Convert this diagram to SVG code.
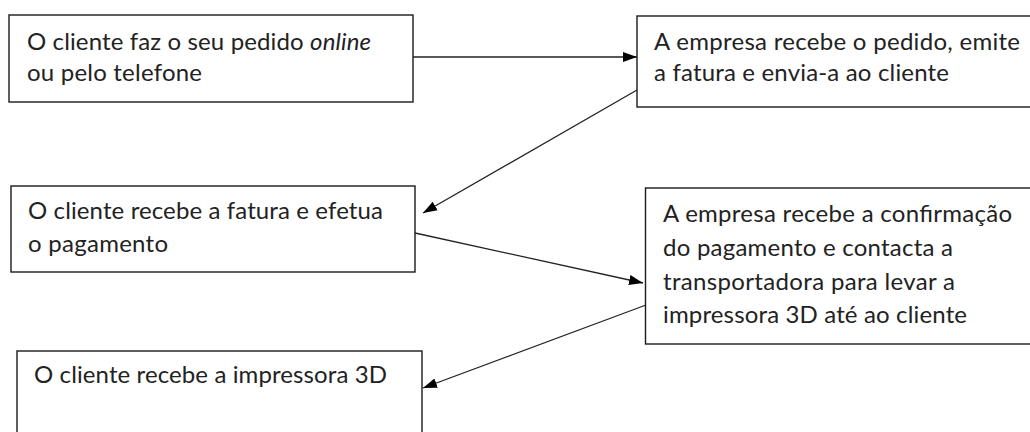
<svg xmlns="http://www.w3.org/2000/svg" width="1030" height="432" viewBox="0 0 1030 432">
  <style>
    .box { fill: #ffffff; stroke: #1a1a1a; stroke-width: 1.4; }
    .lbl { font-family: Lato, "Open Sans", "DejaVu Sans", sans-serif; font-size: 24px; fill: #222222; }
    .conn { stroke: #222222; stroke-width: 1.3; fill: none; marker-end: url(#arrow); }
  </style>
  <defs>
    <marker id="arrow" markerUnits="userSpaceOnUse" markerWidth="15" markerHeight="11" refX="14" refY="5.5" orient="auto">
      <path d="M0,0.5 L14,5.5 L0,10.5 z" fill="#000000"/>
    </marker>
  </defs>
  <rect width="1030" height="432" fill="#ffffff"/>

  <g id="node1">
    <rect class="box" x="9" y="15" width="404" height="87"/>
    <text class="lbl" x="27" y="50" textLength="344" lengthAdjust="spacing">O cliente faz o seu pedido <tspan font-style="italic">online</tspan></text>
    <text class="lbl" x="27" y="81" textLength="175" lengthAdjust="spacing">ou pelo telefone</text>
  </g>

  <g id="node2">
    <rect class="box" x="637" y="16" width="420" height="91"/>
    <text class="lbl" x="654" y="50" textLength="366" lengthAdjust="spacing">A empresa recebe o pedido, emite</text>
    <text class="lbl" x="654" y="81" textLength="295" lengthAdjust="spacing">a fatura e envia-a ao cliente</text>
  </g>

  <g id="node3">
    <rect class="box" x="11" y="186" width="404" height="86"/>
    <text class="lbl" x="28" y="219" textLength="355" lengthAdjust="spacing">O cliente recebe a fatura e efetua</text>
    <text class="lbl" x="28" y="252" textLength="140" lengthAdjust="spacing">o pagamento</text>
  </g>

  <g id="node4">
    <rect class="box" x="645.5" y="188" width="420" height="156"/>
    <text class="lbl" x="663" y="222" textLength="349" lengthAdjust="spacing">A empresa recebe a confirmação</text>
    <text class="lbl" x="663" y="256" textLength="290" lengthAdjust="spacing">do pagamento e contacta a</text>
    <text class="lbl" x="663" y="290" textLength="292" lengthAdjust="spacing">transportadora para levar a</text>
    <text class="lbl" x="663" y="323" textLength="304" lengthAdjust="spacing">impressora 3D até ao cliente</text>
  </g>

  <g id="node5">
    <rect class="box" x="17" y="351" width="405" height="100"/>
    <text class="lbl" x="34" y="383" textLength="353" lengthAdjust="spacing">O cliente recebe a impressora 3D</text>
  </g>

  <g id="connectors">
    <line class="conn" x1="413" y1="57" x2="637" y2="57"/>
    <line class="conn" x1="637" y1="90" x2="423" y2="213"/>
    <line class="conn" x1="415" y1="233" x2="643" y2="283"/>
    <line class="conn" x1="646" y1="305" x2="423" y2="388"/>
  </g>
</svg>
